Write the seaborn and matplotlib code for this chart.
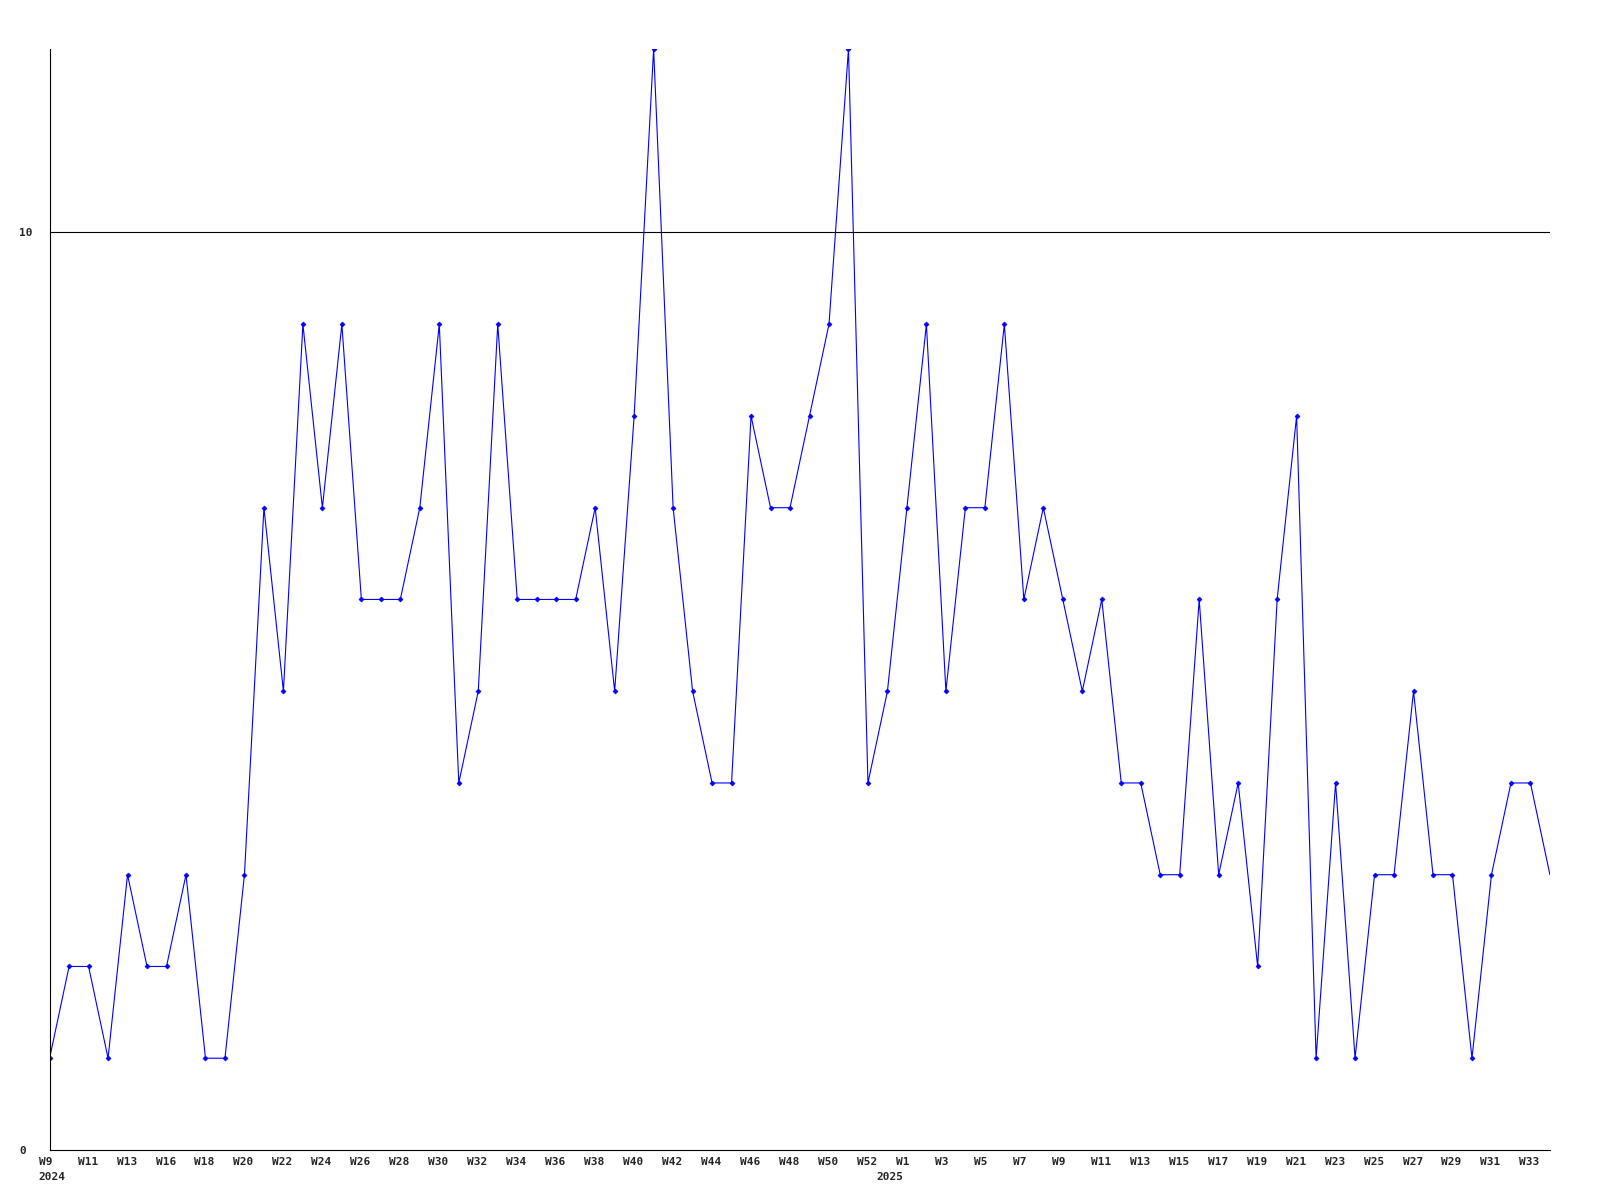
import numpy as np
import pandas as pd
import seaborn as sns
import matplotlib
matplotlib.use("Agg")
import matplotlib.pyplot as plt
import matplotlib.transforms as mtransforms

sns.set_style("white")
plt.rcParams['font.family'] = ['DejaVu Sans Mono', 'DejaVu Sans']

# weekly counts, 2024 W9 onwards
counts = [1, 2, 2, 1, 3, 2, 2, 3, 1, 1,
          3, 7, 5, 9, 7, 9, 6, 6, 6, 7,
          9, 4, 5, 9, 6, 6, 6, 6, 7, 5,
          8, 12, 7, 5, 4, 4, 8, 7, 7, 8,
          9, 12, 4, 5, 7, 9, 5, 7, 7, 9,
          6, 7, 6, 5, 6, 4, 4, 3, 3, 6,
          3, 4, 2, 6, 8, 1, 4, 1, 3, 3,
          5, 3, 3, 1, 3, 4, 4, 3]

week_labels = ['W9', 'W11', 'W13', 'W16', 'W18', 'W20', 'W22', 'W24', 'W26', 'W28',
               'W30', 'W32', 'W34', 'W36', 'W38', 'W40', 'W42', 'W44', 'W46', 'W48',
               'W50', 'W52', 'W1', 'W3', 'W5', 'W7', 'W9', 'W11', 'W13', 'W15',
               'W17', 'W19', 'W21', 'W23', 'W25', 'W27', 'W29', 'W31', 'W33']
year_labels = ['2024', '2025']
year_starts = [0, 43]
y_ticks = [0, 10]
threshold = 10

df = pd.DataFrame({'idx': np.arange(len(counts)), 'count': counts})

fig = plt.figure(figsize=(16, 12), dpi=100)
ax = fig.add_axes([0.0310, 0.0417, 0.9377, 0.9175])

sns.lineplot(data=df, x='idx', y='count', ax=ax, color='#0000ff', linewidth=0.8,
             marker='D', markersize=2.5, markeredgewidth=0.5, markeredgecolor='#0000ff',
             markevery=list(range(len(counts) - 1)))
ax.axhline(threshold, color='black', linewidth=0.8, zorder=1)

ax.set_xlim(0, len(counts) - 1)
ax.set_ylim(0, 12)
ax.set_xlabel('')
ax.set_ylabel('')

for side in ['top', 'right']:
    ax.spines[side].set_visible(False)
for side in ['left', 'bottom']:
    ax.spines[side].set_color('black')
    ax.spines[side].set_linewidth(0.8)

ax.set_yticks(y_ticks)
ax.set_yticklabels([str(v) for v in y_ticks], ha='left', fontsize=8, fontweight='bold')
ax.tick_params(axis='y', length=0, pad=22)
ax.set_xticks([])

# x labels: left aligned a few px before their point, like the original
base = mtransforms.blended_transform_factory(ax.transData, ax.transAxes)
wk_tr = base + mtransforms.ScaledTranslation(-11 / 100, -12 / 100, fig.dpi_scale_trans)
yr_tr = base + mtransforms.ScaledTranslation(-11 / 100, -27 / 100, fig.dpi_scale_trans)
for k, lab in enumerate(week_labels):
    ax.text(2 * k, 0, lab, transform=wk_tr, ha='left', va='center',
            fontsize=8, fontweight='bold')
for pos, lab in zip(year_starts, year_labels):
    ax.text(pos, 0, lab, transform=yr_tr, ha='left', va='center',
            fontsize=8, fontweight='bold')

fig.savefig('out.png', dpi=100, facecolor='white')
